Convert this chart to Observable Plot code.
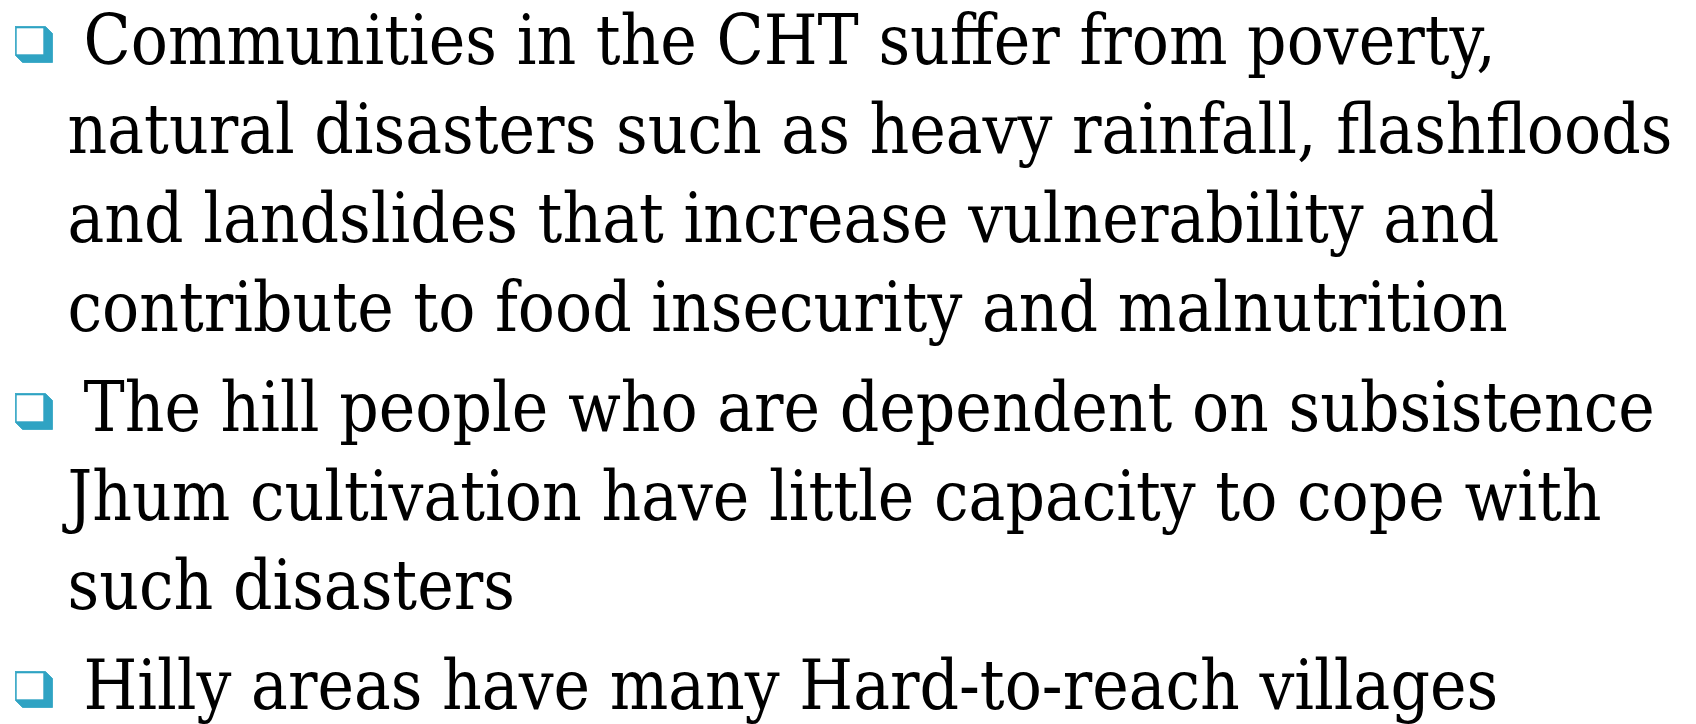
<!DOCTYPE html>
<html><head><meta charset="utf-8">
<style>html,body{margin:0;padding:0;background:#fff;overflow:hidden}</style>
<script src="https://cdn.jsdelivr.net/npm/d3@7"></script>
<script src="https://cdn.jsdelivr.net/npm/@observablehq/plot@0.6"></script>
</head><body><div id="chart"></div>
<script>
// Slide text, one entry per rendered line
const lines = [
  "Communities in the CHT suffer from poverty,",
  "natural disasters such as heavy rainfall, flashfloods",
  "and landslides that increase vulnerability and",
  "contribute to food insecurity and malnutrition",
  "The hill people who are dependent on subsistence",
  "Jhum cultivation have little capacity to cope with",
  "such disasters",
  "Hilly areas have many Hard-to-reach villages"
];
// bullet (paragraph) index of each line
const paragraphOf = [0, 0, 0, 0, 1, 1, 1, 2];
// whether the line opens a bullet
const opensBullet = [true, false, false, false, true, false, false, true];

// ---- layout (pixels) ----
const W = 1696, H = 724;
const firstBaseline = 63, lineGap = 89, paraGap = 11;
const textLeft = 83, hangLeft = 67;
const fitWidth = 1605; // width of the longest line (line 2)
const teal = "#2fa3c3";
const fontFamily = "'DejaVu Serif', serif";
const fontSize = 68.5;

const rows = lines.map((t, i) => ({
  text: t,
  i,
  first: opensBullet[i],
  x: opensBullet[i] ? textLeft : hangLeft,
  y: firstBaseline + i * lineGap + paragraphOf[i] * paraGap
}));
const bullets = rows.filter(r => r.first);

// bullet glyph geometry relative to baseline
const bx0 = 15, bx1 = 52, bTop = 37, bBot = 1, cham = 7;
const hexagons = bullets.flatMap((b, k) => {
  const y0 = b.y - bTop, y1 = b.y - bBot;
  return [
    [bx0, y0], [bx1 - cham, y0], [bx1, y0 + cham], [bx1, y1],
    [bx0 + cham, y1], [bx0, y1 - cham], [bx0, y0]
  ].map(([x, y]) => ({k, x, y}));
});

const chart = Plot.plot({
  width: W, height: H,
  margin: 0,
  x: {type: "identity", axis: null},
  y: {type: "identity", axis: null},
  style: {background: "#fff"},
  marks: [
    Plot.line(hexagons, {x: "x", y: "y", z: "k", fill: teal, stroke: teal, strokeWidth: 0.8, curve: "linear"}),
    Plot.rect(bullets, {
      x1: () => bx0 + 1.7, x2: () => bx0 + 28.3,
      y1: d => d.y - bTop + 2.3, y2: d => d.y - bBot - 7.7,
      fill: "#fff"
    }),
    Plot.text(rows, {
      x: "x", y: "y", text: "text",
      textAnchor: "start", lineAnchor: "bottom",
      fontFamily, fontSize, fill: "#000"
    })
  ]
});
document.getElementById("chart").appendChild(chart);

// Fit the glyph runs to the slide's text box with one uniform horizontal factor
const texts = Array.from(chart.querySelectorAll("text")).filter(t => t.textContent.trim().length);
const natural = texts.map(t => t.getComputedTextLength());
const k = fitWidth / d3.max(natural);
texts.forEach(t => {
  const tr = t.getAttribute("transform") || "";
  t.setAttribute("transform", `${tr} scale(${k.toFixed(4)},1)`);
});
</script>
</body></html>
